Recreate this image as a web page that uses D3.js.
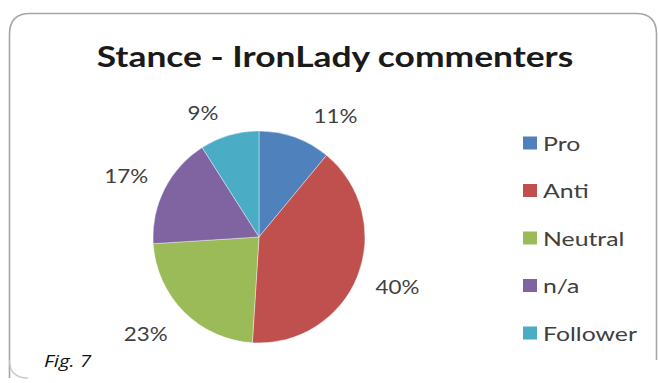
<!DOCTYPE html>
<html>
<head>
<meta charset="utf-8">
<script src="https://cdn.jsdelivr.net/npm/d3@7"></script>
<style>
  html, body { margin: 0; padding: 0; background: #ffffff; }
  svg { display: block; }
</style>
</head>
<body>
<svg id="chart" width="658" height="383"></svg>
<script>
// Stance breakdown of IronLady commenters (percent)
const categories = ["Pro", "Anti", "Neutral", "n/a", "Follower"];
const values = [11, 40, 23, 17, 9];
const palette = ["#4F81BD", "#C0504D", "#9BBB59", "#8064A2", "#4BACC6"];
const titleText = "Stance - IronLady commenters";
const captionText = "Fig. 7";

// Layout
const W = 658, H = 383;
const cx = 259, cy = 237, radius = 106;
const labelGap = 21;
// the whole figure is drawn slightly widened horizontally
const stretch = 1.2;
// small angular / radial spread so the labels sit clear of each other
const labelAngleNudge = [10, 0, 2, 0, -7];
const labelRadialNudge = [5, 0, 6, 0, 0];
const fontFamily = "Lato, 'Open Sans', sans-serif";

const svg = d3.select("#chart");

// Frame with rounded corners
svg.append("path")
  .attr("d", "M9.5,378 L9.5,34 Q9.5,13.5 30,13.5 L636,13.5 Q656.5,13.5 656.5,34 L656.5,360")
  .attr("fill", "none")
  .attr("stroke", "#a6a6a6")
  .attr("stroke-width", 1.6);
svg.append("path")
  .attr("d", "M9.5,360 Q9.5,378 28,378")
  .attr("fill", "none")
  .attr("stroke", "#c8c8c8")
  .attr("stroke-width", 1.4);

// Title
svg.append("text")
  .attr("transform", `translate(335,67) scale(${stretch + 0.02},1)`)
  .attr("text-anchor", "middle")
  .attr("font-family", fontFamily)
  .attr("font-weight", 700)
  .attr("font-size", 29)
  .attr("fill", "#1a1a1a")
  .text(titleText);

const color = d3.scaleOrdinal().domain(categories).range(palette);

const pie = d3.pie().sort(null).value(d => d.value);
const data = categories.map((c, i) => ({ name: c, value: values[i], idx: i }));
const arcs = pie(data);

const arc = d3.arc().innerRadius(0).outerRadius(radius);

const g = svg.append("g").attr("transform", `translate(${cx},${cy})`);

g.selectAll("path.slice")
  .data(arcs)
  .join("path")
  .attr("class", "slice")
  .attr("d", arc)
  .attr("fill", d => color(d.data.name))
  .attr("stroke", "#ffffff")
  .attr("stroke-width", 0.4);

// Percentage labels outside each slice
const fmt = d => d3.format(".0f")(d) + "%";
g.selectAll("text.pct")
  .data(arcs)
  .join("text")
  .attr("class", "pct")
  .attr("font-family", fontFamily)
  .attr("font-size", 20)
  .attr("fill", "#404040")
  .attr("text-anchor", "middle")
  .attr("dominant-baseline", "central")
  .text(d => fmt(d.data.value))
  .each(function (d, i) {
    const a = (d.startAngle + d.endAngle) / 2 + labelAngleNudge[i] * Math.PI / 180;
    const w = this.getComputedTextLength() * 1.12;
    const h = 16;
    const r = radius + labelGap + labelRadialNudge[i];
    const x = Math.sin(a) * r + Math.sin(a) * w / 2;
    const y = -Math.cos(a) * r - Math.cos(a) * h / 2;
    d3.select(this).attr("transform", `translate(${x},${y}) scale(1.12,1)`);
  });

// Legend
const legendX = 523, legendTop = 143, legendStep = 47.5;
const legend = svg.append("g");
const items = legend.selectAll("g.item")
  .data(categories)
  .join("g")
  .attr("class", "item")
  .attr("transform", (d, i) => `translate(${legendX},${legendTop + i * legendStep})`);
items.append("rect")
  .attr("x", 0).attr("y", -6.5)
  .attr("width", 14).attr("height", 13)
  .attr("fill", d => color(d));
items.append("text")
  .attr("transform", `translate(20,0) scale(${stretch + 0.04},1)`)
  .attr("dominant-baseline", "central")
  .attr("font-family", fontFamily)
  .attr("font-size", 20)
  .attr("fill", "#404040")
  .text(d => d);

// Caption
svg.append("text")
  .attr("transform", `translate(44,367) scale(${stretch},1)`)
  .attr("font-family", "'Open Sans', Lato, sans-serif")
  .attr("font-style", "italic")
  .attr("font-size", 17)
  .attr("fill", "#111111")
  .text(captionText);
</script>
</body>
</html>
